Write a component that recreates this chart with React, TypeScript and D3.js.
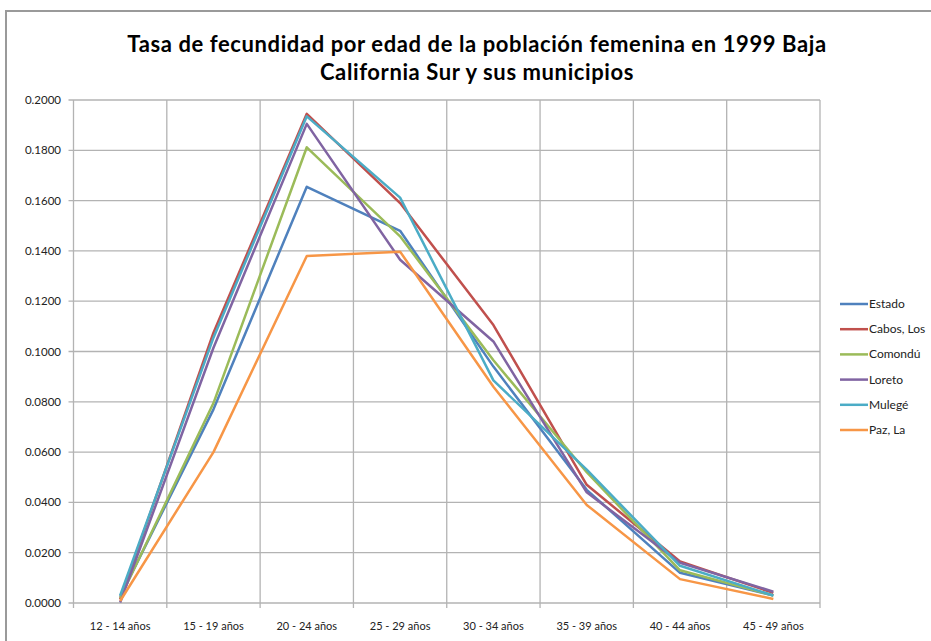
import * as d3 from "d3";

const categories = [
  "12 - 14 años",
  "15 - 19 años",
  "20 - 24 años",
  "25 - 29 años",
  "30 - 34 años",
  "35 - 39 años",
  "40 - 44 años",
  "45 - 49 años",
];

const seriesNames = ["Estado", "Cabos, Los", "Comondú", "Loreto", "Mulegé", "Paz, La"];
const seriesColors = ["#4F81BD", "#C0504D", "#9BBB59", "#8064A2", "#4BACC6", "#F79646"];

const estado = [0.0025, 0.0770, 0.1655, 0.1480, 0.0940, 0.0450, 0.0120, 0.0030];
const cabos = [0.0015, 0.1075, 0.1945, 0.1590, 0.1105, 0.0470, 0.0165, 0.0040];
const comondu = [0.0020, 0.0795, 0.1812, 0.1458, 0.0965, 0.0520, 0.0130, 0.0030];
const loreto = [0.0002, 0.1015, 0.1905, 0.1365, 0.1040, 0.0440, 0.0160, 0.0045];
const mulege = [0.0030, 0.1055, 0.1935, 0.1612, 0.0885, 0.0530, 0.0148, 0.0030];
const paz = [0.0008, 0.0600, 0.1380, 0.1397, 0.0860, 0.0390, 0.0095, 0.0016];

const seriesValues = [estado, cabos, comondu, loreto, mulege, paz];

const yTicks = [0, 0.02, 0.04, 0.06, 0.08, 0.1, 0.12, 0.14, 0.16, 0.18, 0.2];

const titleLines = [
  "Tasa de fecundidad por edad de la población femenina en 1999 Baja",
  "California Sur y sus municipios",
];

const W = 931;
const H = 641;
const left = 73.5;
const right = 820;
const top = 100;
const bottom = 603;
const font = "Lato, 'Open Sans', sans-serif";
const gridColor = "#b3b3b3";

export default function App() {
  const band = d3.scaleBand<string>().domain(categories).range([left, right]).padding(0);
  const x = d3.scalePoint<string>().domain(categories).range([left, right]).padding(0.5);
  const y = d3.scaleLinear().domain([0, 0.2]).range([bottom, top]);

  const line = d3
    .line<number>()
    .x((_, i) => x(categories[i]) as number)
    .y((d) => y(d));

  return (
    <svg
      width={W}
      height={H}
      style={{ position: "absolute", left: 0, top: 0, background: "#fff" }}
      fontFamily={font}
    >
      <rect x={6} y={11} width={W} height={H} fill="#fff" stroke="#9a9a9a" strokeWidth={2} />

      {titleLines.map((t, i) => (
        <text
          key={i}
          x={477}
          y={52 + i * 28}
          textAnchor="middle"
          fontSize={22}
          letterSpacing={0.6}
          fontWeight="bold"
          fill="#000"
        >
          {t}
        </text>
      ))}

      {/* horizontal gridlines + y labels */}
      {yTicks.map((t) => (
        <g key={t}>
          <line x1={left - 5} x2={right} y1={y(t)} y2={y(t)} stroke={gridColor} strokeWidth={1.3} />
          <text x={61} y={y(t) + 4} textAnchor="end" fontSize={11.5} fill="#222">
            {t.toFixed(4)}
          </text>
        </g>
      ))}

      {/* vertical gridlines */}
      {categories.map((c) => (
        <line
          key={c}
          x1={(band(c) as number) + band.bandwidth()}
          x2={(band(c) as number) + band.bandwidth()}
          y1={top}
          y2={bottom + 5}
          stroke={gridColor}
          strokeWidth={1.3}
        />
      ))}
      <line x1={left} x2={left} y1={top} y2={bottom + 5} stroke={gridColor} strokeWidth={1.3} />

      {/* x labels */}
      {categories.map((c) => (
        <text key={c} x={x(c)} y={630} textAnchor="middle" fontSize={11} fill="#222">
          {c}
        </text>
      ))}

      {/* series */}
      {seriesValues.map((vals, i) => (
        <path
          key={seriesNames[i]}
          d={line(vals) as string}
          fill="none"
          stroke={seriesColors[i]}
          strokeWidth={2.5}
          strokeLinejoin="round"
        />
      ))}

      {/* legend */}
      {seriesNames.map((n, i) => (
        <g key={n} transform={`translate(840,${304 + i * 25.2})`}>
          <line x1={0} x2={28} y1={0} y2={0} stroke={seriesColors[i]} strokeWidth={2.5} />
          <text x={29} y={4} fontSize={12} fill="#222">
            {n}
          </text>
        </g>
      ))}
    </svg>
  );
}
